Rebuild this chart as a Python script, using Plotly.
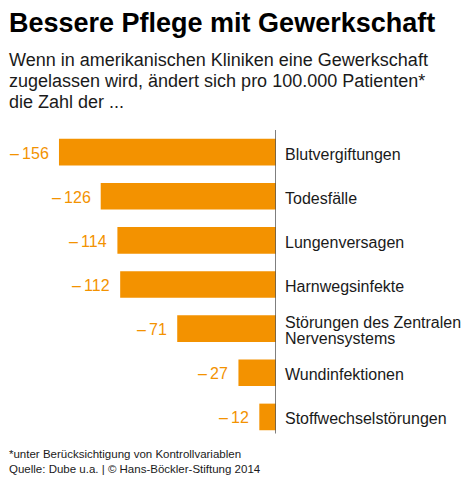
import plotly.graph_objects as go

categories = ["Blutvergiftungen", "Todesfälle", "Lungenversagen", "Harnwegsinfekte",
              "Störungen des Zentralen<br>Nervensystems", "Wundinfektionen", "Stoffwechselstörungen"]
values = [-156, -126, -114, -112, -71, -27, -12]
value_labels = ["\u2013\u2009" + str(abs(v)) for v in values]

title = "Bessere Pflege mit Gewerkschaft"
subtitle_lines = ["Wenn in amerikanischen Kliniken eine Gewerkschaft",
                  "zugelassen wird, ändert sich pro 100.000 Patienten*",
                  "die Zahl der ..."]
footnotes = ["*unter Berücksichtigung von Kontrollvariablen",
             "Quelle: Dube u.a. | © Hans-Böckler-Stiftung 2014"]

ORANGE = "#F39200"
DARK = "#1a1a1a"
FONT = "Liberation Sans, Arial, sans-serif"

W, H = 470, 484
T, B = 130, 44.5
L, R = 10, 194
PW = W - L - R
PH = H - T - B


def py(y_px):
    return (H - B - y_px) / PH


def px(x_px):
    return (x_px - L) / PW


fig = go.Figure()
fig.add_trace(go.Bar(
    x=values, y=list(range(len(categories))), orientation="h",
    marker=dict(color=ORANGE, line=dict(width=0)),
    hoverinfo="skip",
))

annotations = []
for i, (cat, v, lab) in enumerate(zip(categories, values, value_labels)):
    annotations.append(dict(x=v, y=i, xref="x", yref="y", text=lab, showarrow=False,
                            xanchor="right", yanchor="middle", xshift=-8, yshift=-1,
                            font=dict(family=FONT, size=16, color=ORANGE)))
    lines = cat.split("<br>")
    n = len(lines)
    for j, line in enumerate(lines):
        shift = -2 + (n - 1) * 8 - j * 16
        annotations.append(dict(x=0, y=i, xref="x", yref="y", text=line, showarrow=False,
                                xanchor="left", yanchor="middle", align="left", xshift=7,
                                yshift=shift, font=dict(family=FONT, size=16, color=DARK)))

annotations.append(dict(x=px(7), y=py(22.5), xref="paper", yref="paper", text="<b>" + title + "</b>",
                        showarrow=False, xanchor="left", yanchor="middle",
                        font=dict(family=FONT, size=27, color="#000000")))
for line, ypx in zip(subtitle_lines, [59.6, 80.6, 101.8]):
    annotations.append(dict(x=px(7), y=py(ypx), xref="paper", yref="paper", text=line,
                            showarrow=False, xanchor="left", yanchor="middle",
                            font=dict(family=FONT, size=18, color=DARK)))
for line, ypx in zip(footnotes, [454.5, 469.5]):
    annotations.append(dict(x=px(7), y=py(ypx), xref="paper", yref="paper", text=line,
                            showarrow=False, xanchor="left", yanchor="middle",
                            font=dict(family=FONT, size=11.5, color=DARK)))

fig.update_layout(
    width=W, height=H,
    margin=dict(l=L, r=R, t=T, b=B, pad=0),
    paper_bgcolor="white", plot_bgcolor="white",
    showlegend=False,
    bargap=0.397,
    xaxis=dict(range=[-191.2, 0], visible=False, fixedrange=True),
    yaxis=dict(range=[6.5, -0.5], visible=False, fixedrange=True),
    annotations=annotations,
    shapes=[dict(type="line", xref="x", yref="paper", x0=0, x1=0,
                 y0=py(434), y1=py(130), line=dict(color="#555555", width=1.5))],
)

fig.write_html("out.html", config={"displayModeBar": False},
               post_script="document.body.style.margin='0px';document.body.style.padding='0px';")
